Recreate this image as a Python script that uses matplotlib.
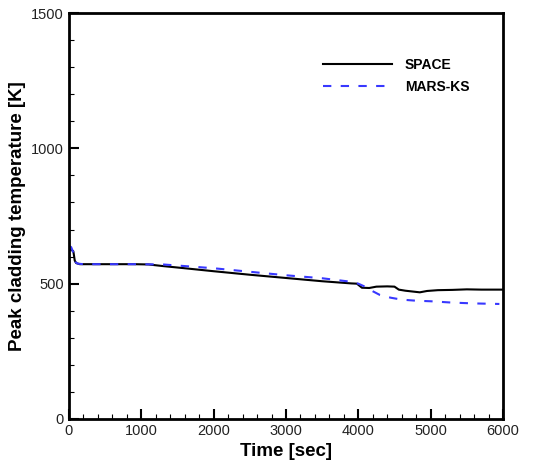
import numpy as np
import matplotlib.pyplot as plt
from matplotlib.ticker import MultipleLocator

# Valores
t_space = [0, 30, 60, 80, 100, 150, 300, 600, 900, 1100, 1300, 1600, 2000, 2500, 3000,
           3500, 3900, 3980, 4050, 4150, 4250, 4400, 4500, 4560, 4650, 4750, 4850,
           4950, 5100, 5300, 5500, 5700, 6000]
pct_space = [628, 625, 620, 585, 576, 572, 572, 572, 572, 571, 565, 557, 546, 533, 521,
             509, 501, 500, 485, 484, 489, 490, 489, 478, 474, 471, 468,
             473, 476, 477, 479, 478, 478]

t_mars = [0, 30, 60, 90, 120, 200, 500, 900, 1300, 1600, 2000, 2500, 3000, 3500, 3900,
          4000, 4100, 4200, 4300, 4450, 4600, 4800, 5000, 5300, 5600, 5950]
pct_mars = [640, 635, 615, 580, 574, 572, 572, 572, 571, 565, 557, 544, 531, 520, 507,
            500, 488, 472, 458, 448, 441, 437, 435, 430, 427, 425]

plt.rcParams['font.family'] = ['Liberation Sans', 'DejaVu Sans']

fig = plt.figure(figsize=(5.36, 4.66), dpi=100)
ax = fig.add_axes([0.1287, 0.1009, 0.8097, 0.8711])

ax.plot(t_space, pct_space, color='black', lw=1.5, label='SPACE')
ax.plot(t_mars, pct_mars, color='#3838ff', lw=1.5, dashes=(4, 4.5), label='MARS-KS')

ax.set_xlim(0, 6000)
ax.set_ylim(0, 1500)
ax.xaxis.set_major_locator(MultipleLocator(1000))
ax.xaxis.set_minor_locator(MultipleLocator(200))
ax.yaxis.set_major_locator(MultipleLocator(500))
ax.yaxis.set_minor_locator(MultipleLocator(100))
ax.tick_params(which='both', direction='in', top=False, right=False,
               labelsize=10.5, labelcolor='#222222')
ax.tick_params(which='major', length=7.5, width=1.5)
ax.tick_params(which='minor', length=3.5, width=0.8)
for s in ax.spines.values():
    s.set_linewidth(2)

ax.set_xlabel('Time [sec]', fontsize=13.5, fontweight='bold', labelpad=4)
ax.set_ylabel('Peak cladding temperature [K]', fontsize=13.5, fontweight='bold', labelpad=4)

leg = ax.legend(loc='upper right', bbox_to_anchor=(0.951, 0.92), frameon=False,
                prop={'weight': 'bold', 'size': 10}, handlelength=5.0, handletextpad=0.9,
                labelspacing=0.6)

fig.savefig('out.png', dpi=100)
